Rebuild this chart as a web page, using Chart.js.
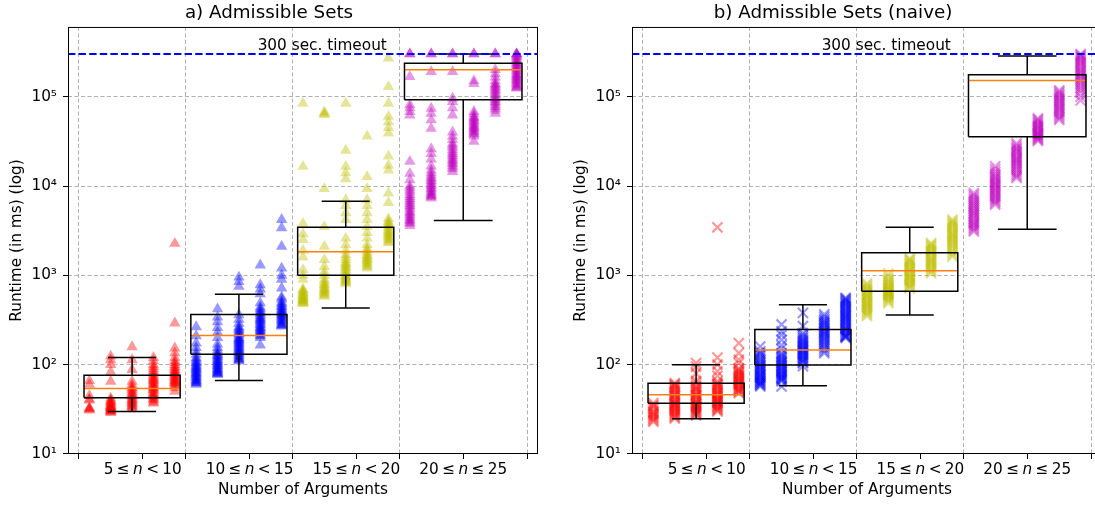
<!DOCTYPE html>
<html>
<head>
<meta charset="utf-8">
<script src="https://cdn.jsdelivr.net/npm/chart.js@4.4.0/dist/chart.umd.min.js"></script>
<style>
  html, body { margin: 0; padding: 0; background: #fff; overflow: hidden; }
  #wrap { position: relative; width: 1095px; height: 506px; overflow: hidden; }
  .panel { position: absolute; top: 0; }
</style>
</head>
<body>
<div id="wrap">
  <canvas id="chartA" class="panel" style="left:0" width="548" height="506"></canvas>
  <canvas id="chartB" class="panel" style="left:564px" width="548" height="506"></canvas>
</div>
<script>
// --- categories / ticks ---
const argCounts = [5, 6, 7, 8, 9, 10, 11, 12, 13, 14, 15, 16, 17, 18, 19, 20, 21, 22, 23, 24, 25];
const groupLow = ['5', '10', '15', '20'];
const groupHigh = ['10', '15', '20', '25'];
const groupRel = ['<', '<', '<', '≤'];
const xLabelTicks = [7.5, 12.5, 17.5, 22.5];
const xGridTicks = [4.5, 9.5, 14.5, 19.5, 25.5];
const yTickValues = [10, 100, 1000, 10000, 100000];
const yTickLabels = ['10¹', '10²', '10³', '10⁴', '10⁵'];
const timeoutMs = 300000;
const timeoutLabel = '300 sec. timeout';

// --- a) Admissible Sets, runtimes (ms) per number of arguments ---
const adm05 = [31, 32, 32, 33, 40, 41, 45, 60, 66];
const adm06 = [29, 30, 30, 31, 31, 32, 32, 33, 33, 34, 34, 35, 36, 37, 38, 39, 40, 42, 65, 83, 100, 113, 124];
const adm07 = [32, 33, 34, 35, 36, 37, 38, 39, 40, 41, 42, 44, 45, 47, 48, 50, 52, 54, 56, 60, 65, 88, 113, 158];
const adm08 = [37, 38, 40, 41, 42, 44, 45, 47, 48, 50, 52, 53, 55, 56, 58, 60, 62, 64, 66, 68, 70, 72, 75, 78, 82, 85, 90, 95, 100, 110, 120];
const adm09 = [50, 55, 58, 60, 62, 63, 65, 66, 68, 70, 72, 74, 76, 78, 80, 82, 85, 88, 92, 95, 100, 105, 110, 120, 135, 153, 292, 2270];
const adm10 = [60, 62, 63, 65, 66, 68, 70, 72, 74, 76, 78, 80, 82, 85, 87, 90, 92, 95, 98, 102, 105, 110, 115, 120, 130, 140, 155, 174, 210, 265];
const adm11 = [77, 79, 80, 82, 84, 86, 88, 90, 93, 96, 98, 101, 104, 107, 110, 114, 118, 122, 126, 130, 135, 145, 155, 170, 200, 230, 260, 300, 340, 420];
const adm12 = [110, 113, 115, 118, 122, 126, 130, 134, 138, 142, 146, 150, 155, 160, 165, 170, 175, 180, 185, 190, 195, 200, 210, 220, 225, 235, 245, 255, 265, 290, 320, 360, 750, 850, 950];
const adm13 = [165, 200, 210, 215, 225, 230, 240, 245, 255, 260, 270, 280, 290, 300, 310, 320, 330, 340, 355, 370, 385, 400, 420, 440, 490, 620, 700, 780, 1300];
const adm14 = [270, 275, 280, 290, 300, 310, 320, 330, 340, 350, 360, 370, 380, 390, 400, 415, 430, 445, 460, 480, 500, 540, 570, 720, 900, 1000, 1200, 2100, 3400, 4200];
const adm15 = [480, 490, 500, 510, 520, 530, 540, 550, 560, 575, 590, 605, 620, 640, 660, 680, 700, 900, 1000, 1150, 1600, 1900, 2500, 2900, 3800, 16500, 84000];
const adm16 = [580, 600, 620, 640, 660, 680, 700, 720, 750, 780, 800, 850, 900, 1000, 1100, 1250, 1500, 2100, 3500, 9300, 63000, 65000, 67000];
const adm17 = [800, 830, 850, 880, 900, 930, 950, 980, 1000, 1050, 1100, 1150, 1200, 1250, 1300, 1350, 1400, 1500, 1600, 1700, 1900, 2200, 2600, 4200, 5000, 6000, 7000, 12000, 14000, 16500, 25000, 84000];
const adm18 = [1200, 1250, 1300, 1350, 1400, 1450, 1500, 1550, 1600, 1650, 1700, 1800, 1900, 2000, 2200, 2600, 3000, 3500, 4200, 5000, 6000, 7000, 9300, 12700, 36000];
const adm19 = [2300, 2400, 2500, 2600, 2700, 2800, 2900, 3000, 3100, 3250, 3400, 3550, 3700, 3850, 4000, 4300, 6500, 8300, 15000, 17000, 21500, 39000, 45000, 52000, 60000, 84000, 129000, 270000];
const adm20 = [3600, 3800, 3900, 4100, 4200, 4400, 4600, 4800, 5000, 5200, 5500, 5800, 6000, 6300, 6600, 6900, 7200, 7600, 8000, 8500, 9000, 9500, 10000, 11700, 13800, 18800, 62000, 68000, 75000, 81000, 167000, 300000, 300000];
const adm21 = [7300, 7600, 7800, 8000, 8300, 8600, 9000, 9300, 9700, 10100, 10500, 11000, 11500, 12000, 12500, 13200, 14000, 15000, 16700, 20000, 23000, 26000, 44000, 55000, 65000, 74000, 190000, 300000, 300000];
const adm22 = [14500, 15500, 16200, 17000, 17800, 18500, 19300, 20000, 21000, 22000, 23000, 24000, 25500, 27000, 28500, 30000, 33000, 36000, 40000, 62000, 75000, 88000, 96000, 190000, 300000, 300000];
const adm23 = [31500, 36000, 38000, 39000, 40500, 42000, 43500, 45000, 46500, 48000, 50000, 52000, 54000, 56000, 58000, 60000, 64000, 68000, 140000, 150000, 300000, 300000];
const adm24 = [65000, 70000, 74000, 77000, 81000, 85000, 88000, 92000, 96000, 100000, 105000, 110000, 115000, 120000, 125000, 130000, 135000, 140000, 150000, 165000, 180000, 200000, 300000, 300000];
const adm25 = [124000, 127000, 130000, 135000, 140000, 145000, 150000, 155000, 160000, 165000, 170000, 175000, 180000, 188000, 195000, 203000, 210000, 218000, 225000, 232000, 240000, 250000, 260000, 270000, 280000, 290000, 300000, 300000, 300000];

// --- b) Admissible Sets (naive) ---
const nav05 = [23, 24, 25, 26, 27, 28, 29, 30, 32, 34, 35, 37];
const nav06 = [25, 26, 27, 28, 29, 30, 31, 32, 33, 34, 35, 36, 37, 38, 40, 41, 43, 45, 46, 48, 50, 52, 54, 56, 58, 60, 62];
const nav07 = [27, 28, 29, 30, 31, 32, 33, 34, 35, 36, 37, 38, 40, 41, 43, 45, 46, 48, 50, 52, 54, 56, 58, 62, 66, 80, 95, 104];
const nav08 = [30, 31, 32, 33, 34, 35, 36, 37, 38, 39, 40, 41, 42, 44, 45, 47, 48, 50, 52, 54, 56, 58, 60, 62, 65, 75, 84, 100, 120, 3450];
const nav09 = [48, 50, 51, 53, 54, 56, 58, 60, 62, 64, 66, 68, 70, 72, 75, 77, 80, 82, 85, 88, 91, 104, 113, 135, 174];
const nav10 = [57, 59, 60, 62, 63, 65, 66, 68, 70, 72, 74, 76, 78, 80, 83, 86, 88, 91, 94, 97, 100, 104, 108, 113, 118, 124, 130, 135, 141, 159];
const nav11 = [57, 65, 67, 69, 70, 72, 74, 76, 78, 80, 83, 85, 88, 91, 94, 97, 100, 104, 107, 111, 115, 120, 124, 130, 135, 150, 165, 190, 215, 236, 282];
const nav12 = [96, 104, 107, 110, 114, 117, 121, 125, 128, 132, 136, 140, 144, 148, 152, 157, 162, 167, 172, 178, 184, 190, 197, 205, 215, 226, 270, 380];
const nav13 = [135, 142, 150, 157, 165, 172, 180, 187, 195, 202, 210, 218, 225, 233, 240, 250, 260, 270, 280, 290, 300, 312, 325, 345, 365];
const nav14 = [200, 204, 207, 211, 215, 222, 230, 237, 245, 252, 260, 270, 280, 290, 300, 310, 320, 330, 340, 350, 360, 372, 385, 397, 410, 425, 440, 455, 470, 485, 500, 515, 530, 545, 560];
const nav15 = [350, 365, 380, 395, 410, 425, 440, 455, 470, 485, 500, 520, 540, 560, 580, 600, 620, 645, 670, 695, 720, 750, 780, 815];
const nav16 = [490, 510, 530, 550, 570, 585, 600, 615, 630, 645, 660, 680, 700, 720, 740, 765, 790, 820, 850, 885, 920, 980, 1050];
const nav17 = [710, 735, 760, 790, 820, 850, 880, 910, 940, 970, 1000, 1040, 1080, 1120, 1160, 1200, 1250, 1300, 1350, 1400, 1450, 1500, 1550];
const nav18 = [1050, 1100, 1150, 1200, 1250, 1300, 1350, 1400, 1450, 1500, 1550, 1620, 1700, 1770, 1850, 1920, 2000, 2070, 2150, 2220, 2300];
const nav19 = [1620, 1700, 1800, 1900, 2000, 2100, 2200, 2300, 2400, 2500, 2600, 2700, 2800, 2900, 3000, 3150, 3300, 3450, 3600, 3750, 3900, 4050, 4200];
const nav20 = [3100, 3250, 3400, 3550, 3700, 3850, 4000, 4200, 4400, 4600, 4800, 5000, 5200, 5450, 5700, 5950, 6200, 6500, 6800, 7150, 7500, 7900, 8300];
const nav21 = [6200, 6500, 6800, 7100, 7400, 7700, 8000, 8350, 8700, 9050, 9400, 9800, 10200, 10600, 11000, 11500, 12000, 12500, 13000, 13700, 14500, 15500, 16600];
const nav22 = [12300, 12900, 13500, 14200, 15000, 15700, 16500, 17200, 18000, 18700, 19500, 20200, 21000, 22000, 23000, 24000, 25000, 26000, 27000, 28500, 30000];
const nav23 = [32000, 33000, 34000, 35000, 36000, 37000, 38000, 39000, 40000, 41500, 43000, 44500, 46000, 47500, 49000, 51000, 53000, 55000, 57000];
const nav24 = [55000, 57500, 60000, 63000, 66000, 69000, 72000, 75000, 78000, 81500, 85000, 88500, 92000, 96000, 100000, 104000, 108000, 113000, 118000];
const nav25 = [91000, 100000, 110000, 118000, 125000, 132000, 140000, 147000, 155000, 162000, 170000, 177000, 185000, 192000, 200000, 210000, 220000, 230000, 240000, 250000, 260000, 270000, 280000, 290000, 300000];

// --- box plot summaries per group ---
const boxPos = [7, 12, 17, 22.5];
const boxWidth = [4.5, 4.5, 4.5, 5.5];
const admLo = [30, 66.7, 430, 4100];
const admQ1 = [42.7, 131, 1000, 92500];
const admMed = [54, 212, 1832, 200000];
const admQ3 = [76, 365, 3460, 236000];
const admHi = [120, 615, 6750, 300000];
const navLo = [24.8, 58, 359, 3280];
const navQ1 = [36.9, 99, 665, 35700];
const navMed = [46, 146, 1122, 152000];
const navQ3 = [62, 248, 1786, 176000];
const navHi = [100, 468, 3460, 285000];

const admRuns = [adm05, adm06, adm07, adm08, adm09, adm10, adm11, adm12, adm13, adm14, adm15,
  adm16, adm17, adm18, adm19, adm20, adm21, adm22, adm23, adm24, adm25];
const navRuns = [nav05, nav06, nav07, nav08, nav09, nav10, nav11, nav12, nav13, nav14, nav15,
  nav16, nav17, nav18, nav19, nav20, nav21, nav22, nav23, nav24, nav25];

const groupColors = ['rgba(255,0,0,0.4)', 'rgba(0,0,255,0.4)', 'rgba(191,191,0,0.4)', 'rgba(191,0,191,0.4)'];
const FONT = '"DejaVu Sans", sans-serif';
const SIZE = 15.3;

function groupOf(n) {
  return n < 10 ? 0 : n < 15 ? 1 : n < 20 ? 2 : 3;
}

function pointDatasets(runs, marker) {
  return argCounts.map((n, i) => {
    const c = groupColors[groupOf(n)];
    const ds = {
      data: runs[i].map(v => ({ x: n, y: v })),
      pointStyle: marker,
      order: 2
    };
    if (marker === 'triangle') {
      Object.assign(ds, { pointRadius: 6.6, backgroundColor: c, borderWidth: 0 });
    } else {
      Object.assign(ds, { pointRadius: 7.2, borderColor: c, backgroundColor: c, borderWidth: 2.2 });
    }
    return ds;
  });
}

function seg(points, color, width) {
  return {
    data: points, showLine: true, pointRadius: 0, borderColor: color,
    borderWidth: width, fill: false, order: 0
  };
}

function boxDatasets(lo, q1, med, q3, hi) {
  const out = [];
  boxPos.forEach((c, i) => {
    const h = boxWidth[i] / 2, cap = boxWidth[i] / 4;
    out.push(seg([{ x: c, y: lo[i] }, { x: c, y: q1[i] }], '#000', 1.5));
    out.push(seg([{ x: c, y: q3[i] }, { x: c, y: hi[i] }], '#000', 1.5));
    out.push(seg([{ x: c - cap, y: lo[i] }, { x: c + cap, y: lo[i] }], '#000', 1.5));
    out.push(seg([{ x: c - cap, y: hi[i] }, { x: c + cap, y: hi[i] }], '#000', 1.5));
    out.push(seg([{ x: c - h, y: q1[i] }, { x: c + h, y: q1[i] }, { x: c + h, y: q3[i] },
      { x: c - h, y: q3[i] }, { x: c - h, y: q1[i] }], '#000', 1.5));
    out.push(seg([{ x: c - h, y: med[i] }, { x: c + h, y: med[i] }], '#ff7f0e', 1.5));
  });
  return out;
}

// frame, timeout caption and x group labels (with italic n)
const decorPlugin = {
  id: 'decor',
  afterDraw(chart) {
    const { ctx, chartArea: a, scales: { x, y } } = chart;
    ctx.save();
    ctx.strokeStyle = '#000';
    ctx.lineWidth = 1;
    ctx.strokeRect(a.left + 0.5, a.top + 0.5, a.right - a.left - 1, a.bottom - a.top - 1);

    ctx.fillStyle = '#000';
    ctx.font = SIZE + 'px ' + FONT;
    ctx.textAlign = 'center';
    ctx.textBaseline = 'alphabetic';
    ctx.fillText(timeoutLabel, x.getPixelForValue(15.9), y.getPixelForValue(timeoutMs) - 4);

    ctx.textAlign = 'left';
    const normal = SIZE + 'px ' + FONT, italic = 'italic ' + SIZE + 'px ' + FONT;
    const gap = 3.4;
    xLabelTicks.forEach((v, i) => {
      const parts = [[groupLow[i], normal], ['≤', normal], ['n', italic], [groupRel[i], normal], [groupHigh[i], normal]];
      let total = gap * (parts.length - 1);
      parts.forEach(p => { ctx.font = p[1]; total += ctx.measureText(p[0]).width; });
      let px = x.getPixelForValue(v) - total / 2;
      const py = x.top + 20;
      parts.forEach(p => {
        ctx.font = p[1];
        ctx.fillText(p[0], px, py);
        px += ctx.measureText(p[0]).width + gap;
      });
    });
    ctx.restore();
  }
};

function makeChart(id, title, runs, marker, box) {
  const datasets = [
    seg([{ x: 4, y: timeoutMs }, { x: 26, y: timeoutMs }], '#0000ff', 2),
    ...boxDatasets(...box),
    ...pointDatasets(runs, marker)
  ];
  datasets[0].borderDash = [7.4, 3.2];

  return new Chart(document.getElementById(id), {
    type: 'scatter',
    data: { datasets },
    options: {
      responsive: false,
      animation: false,
      events: [],
      layout: { padding: { left: 0, right: 10, top: 0, bottom: 0 } },
      plugins: {
        legend: { display: false },
        tooltip: { enabled: false },
        title: {
          display: true, text: title, color: '#000',
          font: { family: FONT, size: 18.3, weight: 'normal' },
          padding: { top: 2, bottom: 3 }
        }
      },
      scales: {
        x: {
          type: 'linear', min: 4, max: 26,
          afterBuildTicks: s => { s.ticks = [...xGridTicks, ...xLabelTicks].sort((a, b) => a - b).map(v => ({ value: v })); },
          afterFit: s => { s.height = 52; },
          ticks: { autoSkip: false, maxRotation: 0, callback: () => '' },
          grid: {
            color: c => xGridTicks.includes(c.tick && c.tick.value) ? '#b0b0b0' : 'rgba(0,0,0,0)',
            tickColor: '#000', tickLength: 5, tickBorderDash: [], lineWidth: 1
          },
          border: { display: false, dash: [4, 2.5] },
          title: {
            display: true, text: 'Number of Arguments', color: '#000',
            font: { family: FONT, size: SIZE }, padding: { top: 0, bottom: 6.8 }
          }
        },
        y: {
          type: 'logarithmic', min: 10, max: 603000,
          afterBuildTicks: s => { s.ticks = yTickValues.map(v => ({ value: v })); },
          afterFit: s => { s.width = 68; },
          ticks: {
            color: '#000', padding: 6, font: { family: FONT, size: SIZE },
            callback: v => { const k = yTickValues.indexOf(v); return k >= 0 ? yTickLabels[k] : ''; }
          },
          grid: { color: '#b0b0b0', tickColor: '#000', tickLength: 5, tickBorderDash: [], lineWidth: 1 },
          border: { display: false, dash: [4, 2.5] },
          title: {
            display: true, text: 'Runtime (in ms) (log)', color: '#000',
            font: { family: FONT, size: SIZE }, padding: { top: 7.5, bottom: 0 }
          }
        }
      }
    },
    plugins: [decorPlugin]
  });
}

makeChart('chartA', 'a) Admissible Sets', admRuns, 'triangle', [admLo, admQ1, admMed, admQ3, admHi]);
makeChart('chartB', 'b) Admissible Sets (naive)', navRuns, 'crossRot', [navLo, navQ1, navMed, navQ3, navHi]);
</script>
</body>
</html>
